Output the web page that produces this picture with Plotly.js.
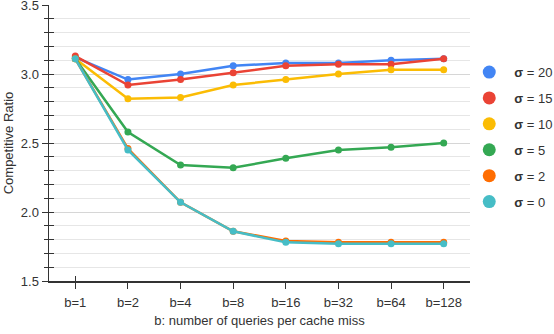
<!DOCTYPE html>
<html>
<head>
<meta charset="utf-8">
<script src="https://cdn.plot.ly/plotly-3.0.1.min.js"></script>
<style>
  html, body { margin: 0; padding: 0; background: white; }
  #chart { width: 554px; height: 334px; }
</style>
</head>
<body>
<div id="chart"></div>
<script>
/* categories along the x axis */
const B_LABELS = ['b=1', 'b=2', 'b=4', 'b=8', 'b=16', 'b=32', 'b=64', 'b=128'];

/* competitive ratio per sigma */
const SIGMA_NAMES = ['20', '15', '10', '5', '2', '0'];
const SIGMA_20 = [3.12, 2.96, 3.00, 3.06, 3.08, 3.08, 3.10, 3.11];
const SIGMA_15 = [3.13, 2.92, 2.96, 3.01, 3.06, 3.07, 3.07, 3.11];
const SIGMA_10 = [3.11, 2.82, 2.83, 2.92, 2.96, 3.00, 3.03, 3.03];
const SIGMA_5  = [3.11, 2.58, 2.34, 2.32, 2.39, 2.45, 2.47, 2.50];
const SIGMA_2  = [3.11, 2.46, 2.07, 1.86, 1.79, 1.78, 1.78, 1.78];
const SIGMA_0  = [3.11, 2.45, 2.07, 1.86, 1.78, 1.77, 1.77, 1.77];

const SERIES = [SIGMA_20, SIGMA_15, SIGMA_10, SIGMA_5, SIGMA_2, SIGMA_0];
const COLORS = ['#4285F4', '#EA4335', '#FBBC04', '#34A853', '#FF6D01', '#46BDC6'];

const FONT = 'Liberation Sans, Arial, sans-serif';
const INK = '#333';

const traces = [];
SERIES.forEach((ys, i) => {
  traces.push({
    type: 'scatter', mode: 'lines+markers',
    x: B_LABELS, y: ys, name: 'σ = ' + SIGMA_NAMES[i],
    line: { color: COLORS[i], width: 2.5 },
    marker: { color: COLORS[i], size: 7 },
    showlegend: false,
  });
});
/* legend-only entries: round dots, no line */
SERIES.forEach((ys, i) => {
  traces.push({
    type: 'scatter', mode: 'markers',
    x: [null], y: [null], name: '<b>σ</b> = ' + SIGMA_NAMES[i],
    marker: { color: COLORS[i], size: 13 },
    legendgroup: 'g' + i, showlegend: true,
  });
});

/* overlaid axes, only to get ticks that cross the axis lines */
const tickAxis = {
  showgrid: false, showline: false, zeroline: false,
  ticks: 'inside', ticklen: 5, tickwidth: 1, tickcolor: INK,
  showticklabels: false,
};

Plotly.newPlot('chart', traces, {
  width: 554, height: 334,
  paper_bgcolor: 'white', plot_bgcolor: 'white',
  font: { family: FONT, size: 13, color: INK },
  margin: { l: 49, r: 84, t: 5, b: 53, autoexpand: false },
  showlegend: true,
  legend: {
    xref: 'container', yref: 'container',
    x: 0.838, y: 0.829, xanchor: 'left', yanchor: 'top',
    font: { size: 13, color: INK }, tracegroupgap: 6, itemwidth: 40,
    bgcolor: 'rgba(0,0,0,0)',
  },
  xaxis: {
    type: 'category', range: [-0.5, 7.5],
    showline: true, linecolor: INK, linewidth: 1.5,
    ticks: 'outside', ticklen: 6, tickcolor: INK, ticklabelstandoff: 3,
    showgrid: false, zeroline: false,
    tickfont: { size: 13, color: INK },
    title: { text: 'b: number of queries per cache miss', font: { size: 13, color: INK }, standoff: 7 },
  },
  yaxis: {
    range: [1.5, 3.5001], tickvals: [1.5, 2.0, 2.5, 3.0, 3.5], tickformat: '.1f',
    ticklabeloverflow: 'allow',
    showline: true, linecolor: INK, linewidth: 1.5,
    ticks: 'outside', ticklen: 6, tickcolor: INK,
    gridcolor: '#d6d6d6', gridwidth: 1, zeroline: false,
    minor: { dtick: 0.1, tick0: 1.5, showgrid: true, gridcolor: '#e6e6e6', ticks: 'outside', ticklen: 4, tickcolor: INK },
    tickfont: { size: 13, color: INK },
    title: { text: 'Competitive Ratio', font: { size: 13, color: INK }, standoff: 4 },
  },
  xaxis2: Object.assign({ overlaying: 'x', type: 'category', range: [-0.5, 7.5], anchor: 'y2' }, tickAxis),
  yaxis2: Object.assign({ overlaying: 'y', range: [1.5, 3.5001], dtick: 0.1, tick0: 1.5, anchor: 'x2', side: 'left' }, tickAxis),
}, { displayModeBar: false, staticPlot: true });

/* empty trace so the overlay axes are drawn */
Plotly.addTraces('chart', [{ type: 'scatter', x: B_LABELS, y: [null], xaxis: 'x2', yaxis: 'y2', showlegend: false, hoverinfo: 'skip' }]);
</script>
</body>
</html>
